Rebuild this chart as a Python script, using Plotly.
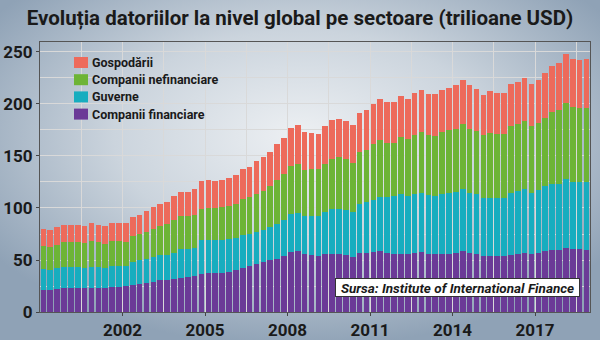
import base64
import pandas as pd
import plotly.graph_objects as go

# Global debt by sector, quarterly 1999Q1-2018Q4, trillion USD
quarters = pd.date_range("1999-01-01", periods=80, freq="QS")
tick_years = ["2002", "2005", "2008", "2011", "2014", "2017"]

financial = [21.5, 20.8, 22.1, 22.8, 22.8, 22.8, 22.8, 23.4, 23.4, 23.4, 24.0, 24.0, 24.7, 26.0, 27.2, 28.2,
             28.8, 30.4, 31.1, 31.7, 33.0, 33.7, 34.3, 36.9, 37.5, 37.8, 37.8, 38.5, 40.7, 42.6, 43.9, 46.5,
             48.1, 49.7, 51.3, 53.5, 57.7, 58.3, 55.4, 54.5, 53.5, 55.4, 56.1, 56.1, 54.5, 52.9, 56.7, 56.7,
             57.7, 58.3, 56.7, 56.1, 56.1, 55.4, 56.7, 57.7, 56.1, 55.4, 56.1, 56.1, 57.1, 58.3, 57.1, 56.1,
             53.8, 53.5, 53.5, 53.5, 55.1, 56.1, 56.7, 55.4, 56.7, 58.3, 59.3, 59.3, 61.5, 60.3, 60.3, 59.9]

government = [20.2, 19.9, 19.9, 20.5, 20.5, 20.5, 19.9, 19.9, 19.9, 19.2, 19.9, 20.5, 19.2, 21.8, 22.4, 23.1,
              24.0, 24.0, 24.0, 25.0, 27.2, 27.2, 27.2, 32.1, 31.4, 31.1, 31.7, 31.4, 30.8, 31.1, 31.4, 30.4,
              31.1, 32.1, 33.0, 34.6, 36.9, 37.2, 36.5, 37.5, 38.8, 40.7, 43.3, 43.3, 43.3, 43.3, 47.4, 49.0,
              50.3, 52.2, 53.8, 55.1, 57.7, 55.8, 57.1, 56.7, 56.1, 56.1, 57.1, 58.7, 58.3, 59.6, 57.7, 57.1,
              55.8, 56.4, 56.1, 56.4, 59.6, 59.9, 61.2, 59.3, 60.3, 62.5, 63.5, 64.1, 66.3, 64.7, 64.7, 65.1]

nonfinancial = [21.8, 21.8, 22.4, 23.7, 24.0, 23.7, 24.0, 25.0, 24.0, 23.1, 24.0, 23.7, 23.7, 25.0, 25.6, 25.6,
                27.2, 27.9, 29.8, 31.4, 31.7, 31.4, 31.4, 30.4, 31.1, 31.1, 31.4, 32.1, 32.7, 34.6, 35.3, 36.9,
                36.9, 39.4, 42.3, 44.9, 45.5, 47.1, 44.9, 45.2, 45.5, 45.8, 48.1, 49.7, 49.7, 47.4, 49.7, 50.3,
                53.2, 54.5, 52.2, 51.3, 54.5, 54.8, 56.7, 58.7, 58.3, 57.7, 59.6, 59.9, 60.9, 62.5, 61.5, 60.9,
                60.9, 62.2, 61.9, 60.9, 63.8, 64.4, 65.7, 63.8, 65.1, 66.0, 69.6, 71.2, 73.4, 72.1, 71.5, 71.5]

households = [16.0, 16.0, 17.3, 17.0, 16.7, 17.0, 16.3, 17.0, 16.7, 16.7, 17.6, 17.6, 17.6, 18.3, 18.3, 20.2,
              20.8, 21.8, 20.8, 23.7, 23.1, 22.8, 25.3, 26.9, 27.2, 26.3, 26.3, 26.9, 27.9, 29.5, 29.2, 31.1,
              33.3, 33.0, 34.6, 34.6, 37.2, 37.5, 36.2, 34.9, 33.3, 36.5, 36.9, 36.5, 36.5, 36.2, 37.5, 37.8,
              38.5, 40.1, 38.8, 39.1, 39.1, 38.8, 40.1, 40.1, 39.4, 40.1, 40.4, 41.0, 42.3, 42.3, 41.7, 40.1,
              38.5, 40.4, 39.1, 39.7, 40.4, 40.4, 41.3, 40.4, 40.7, 43.3, 43.9, 45.2, 46.5, 45.8, 45.5, 46.5]

series = [
    ("Companii financiare", financial, "#6b3a97"),
    ("Guverne", government, "#17adbf"),
    ("Companii nefinanciare", nonfinancial, "#6db436"),
    ("Gospodării", households, "#ed6a5b"),
]

FONT = "Roboto, Lato, Liberation Sans, sans-serif"
INK = "#1a1a1a"

# plot area in pixels: x 40..590, y 42..312
L, R, T, B = 40, 10, 42, 28
W, H = 600, 340
PW, PH = W - L - R, H - T - B


def px_x(x):
    return (x - L) / PW


def px_y(y):
    return (H - B - y) / PH


fig = go.Figure()
for name, values, color in series:
    fig.add_trace(go.Bar(
        x=quarters, y=values, name=name,
        xperiod="M3", xperiodalignment="middle",
        marker=dict(color=color, line=dict(width=0)),
    ))

# legend drawn as swatches + labels, top row first
shapes, annotations = [], []
for row, (name, _, color) in enumerate(reversed(series)):
    cy = 62.5 + 17.2 * row
    shapes.append(dict(
        type="rect", xref="paper", yref="paper", layer="above",
        x0=px_x(74), x1=px_x(88), y0=px_y(cy + 5.5), y1=px_y(cy - 5.5),
        fillcolor=color, line=dict(width=0),
    ))
    annotations.append(dict(
        text=f"<b>{name}</b>", xref="paper", yref="paper",
        x=px_x(90), y=px_y(cy), xanchor="left", yanchor="middle",
        showarrow=False, font=dict(family=FONT, size=12.5, color=INK),
    ))

annotations.append(dict(
    text="<b><i>Sursa: Institute of International Finance</i></b>",
    xref="paper", yref="paper", x=px_x(457.5), y=px_y(287.5),
    xanchor="center", yanchor="middle", showarrow=False,
    width=241, height=15, align="center",
    bgcolor="white", bordercolor="#333333", borderwidth=1, borderpad=1,
    font=dict(family=FONT, size=13.5, color=INK),
))

# soft bluish backdrop behind the whole figure
svg = ('<svg xmlns="http://www.w3.org/2000/svg" width="600" height="340">'
       '<defs><radialGradient id="g" cx="50%" cy="40%" r="62%">'
       '<stop offset="0" stop-color="#edf0f3"/><stop offset="0.5" stop-color="#cbd4dd"/>'
       '<stop offset="1" stop-color="#8fa2b6"/></radialGradient></defs>'
       '<rect width="600" height="340" fill="url(#g)"/></svg>')
backdrop = "data:image/svg+xml;base64," + base64.b64encode(svg.encode()).decode()

fig.update_layout(
    template="none",
    width=W, height=H, autosize=False,
    margin=dict(l=L, r=R, t=T, b=B, pad=0),
    barmode="stack", bargap=0.18,
    paper_bgcolor="#c9d2db", plot_bgcolor="white",
    font=dict(family=FONT, color=INK),
    title=dict(
        text="<b>Evoluția datoriilor la nivel global pe sectoare (trilioane USD)</b>",
        x=0.5, xref="container", xanchor="center",
        y=0.947, yref="container", yanchor="middle", automargin=False,
        font=dict(family=FONT, size=20.5, color=INK),
    ),
    showlegend=False,
    shapes=shapes,
    annotations=annotations,
    images=[dict(
        source=backdrop, xref="paper", yref="paper",
        x=-L / PW, y=1 + T / PH, sizex=W / PW, sizey=H / PH,
        xanchor="left", yanchor="top", sizing="stretch", layer="below",
    )],
)

fig.update_xaxes(
    type="date", range=["1999-01-01", "2019-01-01"],
    tickmode="array", tickvals=[f"{y}-01-01" for y in tick_years], ticktext=tick_years,
    ticks="outside", ticklen=3, tickcolor="#444",
    tickfont=dict(family=FONT, size=17, color=INK, weight="bold"),
    showgrid=True, gridcolor="#d9d9d9", gridwidth=1,
    minor=dict(tick0="1999-01-01", dtick="M18", showgrid=True, gridcolor="#d9d9d9", ticks=""),
    showline=True, linecolor="#555555", linewidth=1, mirror=True,
    automargin=False, fixedrange=True,
)
fig.update_yaxes(
    range=[0, 259.6], tick0=0, dtick=50,
    ticks="outside", ticklen=3, tickcolor="#444",
    tickfont=dict(family=FONT, size=17, color=INK, weight="bold"),
    showgrid=True, gridcolor="#d9d9d9", gridwidth=1,
    minor=dict(dtick=25, showgrid=True, gridcolor="#d9d9d9", ticks=""),
    showline=True, linecolor="#555555", linewidth=1, mirror=True,
    zeroline=False, automargin=False, fixedrange=True,
)

fig.write_html("out.html")
